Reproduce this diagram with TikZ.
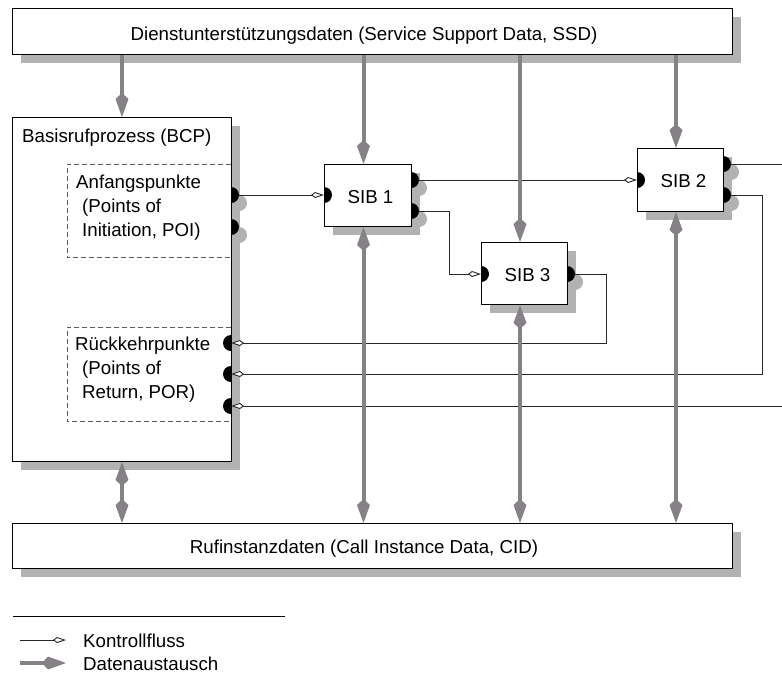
\documentclass[tikz,border=0pt]{standalone}
\usepackage{fontspec}
\setmainfont{Liberation Sans}
\usetikzlibrary{arrows.meta,shadows,calc}
\definecolor{shadowgray}{RGB}{178,178,178}
\definecolor{datagray}{RGB}{134,128,135}
\definecolor{ctrlcol}{RGB}{40,40,40}
\definecolor{dashcol}{RGB}{90,90,90}
\newcommand\myportR[2][black]{\fill[#1] (#2) ++(0,-8) arc[start angle=90,end angle=-90,radius=8pt] -- cycle;}
\newcommand\myportL[2][black]{\fill[#1] (#2) ++(0,-8) arc[start angle=90,end angle=270,radius=8pt] -- cycle;}
\newcommand\myportS[1]{\fill[shadowgray] ($(#1)+(8,8)$) ++(0,-8) arc[start angle=90,end angle=-90,radius=8pt] -- cycle;}
\begin{document}
\begin{tikzpicture}[x=1pt,y=-1pt,
  txt/.style={font=\fontsize{18.7}{24}\selectfont, inner sep=0pt, text=black},
  boxnode/.style={draw=black, line width=1pt, fill=white, inner sep=0pt, anchor=north west,
    drop shadow={shadow xshift=8pt, shadow yshift=-8pt, fill=shadowgray, opacity=1}},
  region/.style={inner sep=0pt, anchor=north west},
  dashline/.style={draw=dashcol, line width=0.8pt, dash pattern=on 5pt off 3pt},
  ctrl/.style={draw=ctrlcol, line width=0.9pt, -{Kite[length=13pt,width=6pt,inset=4pt,fill=white]}},
  data/.style={draw=datagray, line width=4pt, -{Kite[length=24pt,width=13pt,inset=6pt,line width=0pt]}},
  data2/.style={draw=datagray, line width=4pt, {Kite[length=24pt,width=13pt,inset=6pt,line width=0pt]}-{Kite[length=24pt,width=13pt,inset=6pt,line width=0pt]}},
]
\useasboundingbox (0,0) rectangle (782,675);

% boxes
\node[boxnode, minimum width=720pt, minimum height=46pt] (ssd) at (12,8) {};
\node[boxnode, minimum width=720pt, minimum height=45pt] (cid) at (12,523) {};
\node[boxnode, minimum width=219pt, minimum height=344pt] (bcp) at (12,117) {};
\node[boxnode, minimum width=87pt, minimum height=62pt] (sib1) at (324,164) {};
\node[boxnode, minimum width=86pt, minimum height=62pt] (sib3) at (481,242) {};
\node[boxnode, minimum width=86pt, minimum height=63pt] (sib2) at (637,148) {};

% dashed regions
\node[region, minimum width=164pt, minimum height=93pt] (poi) at (67,164) {};
\node[region, minimum width=164pt, minimum height=94pt] (por) at (67,327) {};
\draw[dashline] (poi.north east) -| (poi.south west) -- (poi.south east);
\draw[dashline] (por.north east) -| (por.south west) -- (por.south east);

% texts
\node[txt, anchor=base] (ssdtext) at (364,40) {Dienstunterstützungsdaten (Service Support Data, SSD)};
\node[txt, anchor=base] (cidtext) at (364,553) {Rufinstanzdaten (Call Instance Data, CID)};
\node[txt, anchor=base west] (bcptext) at (22,142) {Basisrufprozess (BCP)};
\node[txt, anchor=base west, align=left] (poitext) at (76,236) {Anfangspunkte\\\hspace*{6pt}(Points of\\\hspace*{6pt}Initiation, POI)};
\node[txt, anchor=base west, align=left] (portext) at (75,398) {Rückkehrpunkte\\\hspace*{7pt}(Points of\\\hspace*{7pt}Return, POR)};
\node[txt, anchor=base] (sib1text) at (370.5,203) {SIB 1};
\node[txt, anchor=base] (sib2text) at (683.5,187) {SIB 2};
\node[txt, anchor=base] (sib3text) at (527.5,281) {SIB 3};

% ports
\coordinate (poiA) at (231,195);
\coordinate (poiB) at (231,227);
\coordinate (porA) at (231,343);
\coordinate (porB) at (231,374);
\coordinate (porC) at (231,406);
\coordinate (s1in) at (324,195);
\coordinate (s1outA) at (411,180);
\coordinate (s1outB) at (411,211);
\coordinate (s2in) at (637,180);
\coordinate (s2outA) at (723,164);
\coordinate (s2outB) at (723,195);
\coordinate (s3in) at (481,274);
\coordinate (s3out) at (567,274);
\coordinate (exitA) at (782,164);
\coordinate (exitB) at (782,406);

% port shadows
\myportS{poiA}\myportS{poiB}
\myportS{s1outA}\myportS{s1outB}
\myportS{s2outA}\myportS{s2outB}
\myportS{s3out}

% control flow
\draw[ctrl] (poiA) -- (s1in);
\draw[ctrl] (s1outA) -- (s2in);
\draw[ctrl] (s1outB) -- (449,211) -- (449,274) -- (s3in);
\draw[ctrl] (s3out) -- (606,274) -- (606,343) -- (porA);
\draw[ctrl] (s2outB) -- (762,195) -- (762,374) -- (porB);
\draw[ctrl, -] (s2outA) -- (exitA);
\draw[ctrl] (exitB) -- (porC);

% data exchange
\coordinate (d1t) at ($(sib1.north)+(-4.5,0)$);
\coordinate (d1b) at ($(sib1.south)+(-4.5,0)$);
\coordinate (d3t) at ($(sib3.north)+(-4.5,0)$);
\coordinate (d3b) at ($(sib3.south)+(-4.5,0)$);
\coordinate (d2t) at ($(sib2.north)+(-4.5,0)$);
\coordinate (d2b) at ($(sib2.south)+(-4.5,0)$);
\draw[data] (ssd.south -| bcp.north) -- (bcp.north);
\draw[data] (ssd.south -| d1t) -- (d1t);
\draw[data] (ssd.south -| d3t) -- (d3t);
\draw[data] (ssd.south -| d2t) -- (d2t);
\draw[data2] (bcp.south) -- (cid.north -| bcp.south);
\draw[data2] (d1b) -- (cid.north -| d1b);
\draw[data2] (d3b) -- (cid.north -| d3b);
\draw[data2] (d2b) -- (cid.north -| d2b);

% black ports
\myportR{poiA}\myportR{poiB}
\myportL{porA}\myportL{porB}\myportL{porC}
\myportR{s1in}\myportR{s1outA}\myportR{s1outB}
\myportR{s2in}\myportR{s2outA}\myportR{s2outB}
\myportR{s3in}\myportR{s3out}

% legend
\coordinate (legL) at (13,616);
\coordinate (legR) at (285,616);
\draw[black, line width=0.9pt] (legL) -- (legR);
\coordinate (k1) at (20,640);
\coordinate (k2) at (66,640);
\draw[ctrl] (k1) -- (k2);
\coordinate (dd1) at (20,663);
\coordinate (dd2) at (66,663);
\draw[data] (dd1) -- (dd2);
\node[txt, anchor=base west] (kontext) at (83,647) {Kontrollfluss};
\node[txt, anchor=base west] (datext) at (83,670) {Datenaustausch};
\end{tikzpicture}
\end{document}
